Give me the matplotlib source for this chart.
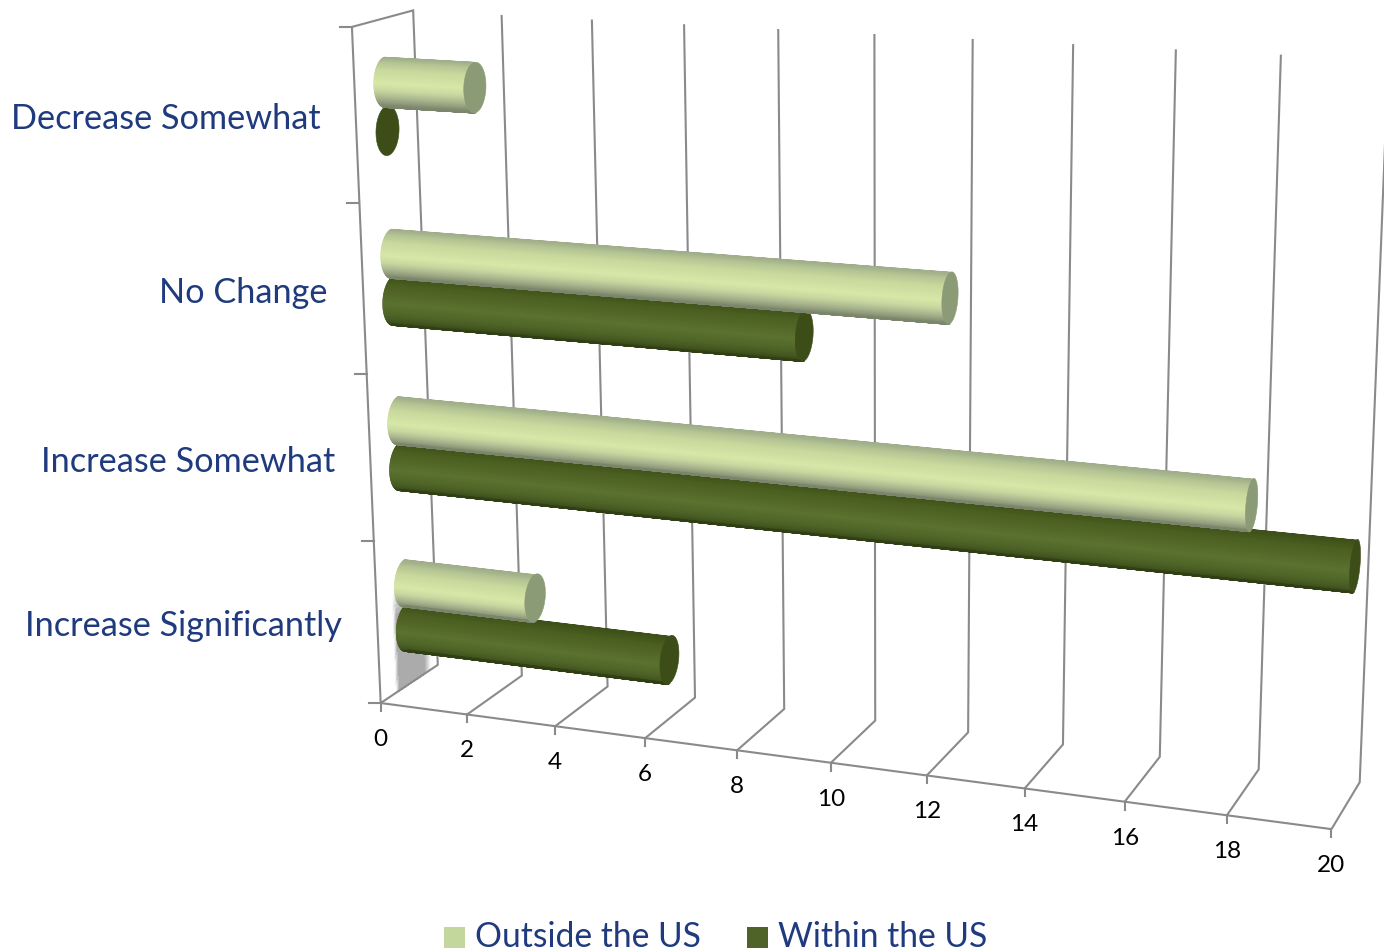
import numpy as np
import matplotlib
matplotlib.use("Agg")
import matplotlib.pyplot as plt
from matplotlib.collections import PolyCollection
from matplotlib.patches import Rectangle, Polygon
from matplotlib.colors import to_rgb

plt.rcParams['font.family'] = ['Lato', 'DejaVu Sans']

# Survey responses, listed from the floor of the chart upwards
categories = ["Increase Significantly", "Increase Somewhat", "No Change", "Decrease Somewhat"]
outside_us = [3, 18, 12, 2]
within_us = [6, 20, 9, 0]
value_ticks = list(range(0, 21, 2))
series_names = ["Outside the US", "Within the US"]

W, H = 1384, 951
LINE = "#8a8a8a"
BLUE = "#1f3a7d"

# Camera: pairs of (value, category height, depth) and where they land on the canvas
CAMERA_WORLD = np.array([
    (0, 0, 0), (2, 0, 0), (4, 0, 0), (6, 0, 0), (8, 0, 0), (10, 0, 0),
    (12, 0, 0), (14, 0, 0), (16, 0, 0), (18, 0, 0), (20, 0, 0),
    (0, 0, 1), (6, 0, 1), (10, 0, 1), (14, 0, 1), (20, 0, 1),
    (0, 4, 1), (2, 4, 1), (6, 4, 1), (10, 4, 1), (14, 4, 1), (18, 4, 1),
    (0, 4, 0), (0, 3, 0), (0, 2, 0), (0, 1, 0)], float)
CAMERA_CANVAS = np.array([
    (381, 703), (467, 715), (555, 727), (645, 739), (737, 751), (831, 763),
    (927, 775), (1024, 788), (1125, 802), (1227, 815), (1331, 829),
    (438, 665), (695, 697), (875, 720), (1063, 745), (1360, 782),
    (413, 11), (501, 15), (684, 24), (874, 34), (1074, 44), (1281, 55),
    (352, 27), (359.5, 203), (367, 373), (374, 540)], float)


def solve_camera(world, canvas):
    rows, rhs = [], []
    for (x, y, z), (u, v) in zip(world, canvas):
        rows.append([x, y, z, 1, 0, 0, 0, 0, -u * x, -u * y, -u * z])
        rows.append([0, 0, 0, 0, x, y, z, 1, -v * x, -v * y, -v * z])
        rhs += [u, v]
    p = np.linalg.lstsq(np.array(rows), np.array(rhs), rcond=None)[0]
    return np.append(p, 1).reshape(3, 4)


CAM = solve_camera(CAMERA_WORLD, CAMERA_CANVAS)


def project(v, c, d):
    v, c, d = np.broadcast_arrays(np.asarray(v, float), np.asarray(c, float), np.asarray(d, float))
    h = CAM @ np.stack([v, c, d, np.ones_like(v)])
    return np.stack([h[0] / h[2], h[1] / h[2]], axis=-1)


# Cylinder cross-section colours: (position from top to bottom edge, colour)
PALE_RAMP = [(0, "#a0ad8a"), (0.07, "#b4c493"), (0.2, "#c8d99d"), (0.45, "#d8e8a8"),
             (0.6, "#c8d8a0"), (0.78, "#a3af8a"), (0.92, "#838e70"), (1, "#7a856c")]
DARK_RAMP = [(0, "#3e5019"), (0.1, "#4a5e20"), (0.45, "#5b7230"), (0.68, "#506628"),
             (0.86, "#42551f"), (1, "#303f14")]
PALE_CAP = "#8b9b75"
DARK_CAP = "#3c4d18"


def ramp_colour(ramp, s):
    pos = [p for p, _ in ramp]
    rgb = np.array([to_rgb(c) for _, c in ramp])
    return tuple(np.interp(s, pos, rgb[:, i]) for i in range(3))


RADIUS_C = 0.143
RADIUS_D = 0.19
BAR_DEPTH = 0.5


def draw_cylinder(ax, value, level, ramp, cap_colour, zorder):
    thetas = np.linspace(0, np.pi, 91)
    if value > 0:
        near = project(0, level + RADIUS_C * np.cos(thetas), BAR_DEPTH - RADIUS_D * np.sin(thetas))
        far = project(value, level + RADIUS_C * np.cos(thetas), BAR_DEPTH - RADIUS_D * np.sin(thetas))
        quads, colours = [], []
        for k in range(len(thetas) - 1):
            quads.append([near[k], far[k], far[k + 1], near[k + 1]])
            colours.append(ramp_colour(ramp, (1 - np.cos(0.5 * (thetas[k] + thetas[k + 1]))) / 2))
        ax.add_collection(PolyCollection(quads, facecolors=colours, edgecolors=colours,
                                         linewidths=0.8, zorder=zorder))
    ring = np.linspace(0, 2 * np.pi, 120)
    cap = project(value, level + RADIUS_C * np.cos(ring), BAR_DEPTH + RADIUS_D * np.sin(ring))
    ax.add_patch(Polygon(cap, closed=True, facecolor=cap_colour, edgecolor=cap_colour,
                         linewidth=0.4, zorder=zorder + 0.1))


fig = plt.figure(figsize=(W / 100, H / 100), dpi=100)
ax = fig.add_axes([0, 0, 1, 1])
ax.set_xlim(0, W)
ax.set_ylim(H, 0)
ax.axis("off")


def line3d(points, **kw):
    xy = project(*np.array(points, float).T)
    ax.plot(xy[:, 0], xy[:, 1], color=LINE, lw=1.5, solid_capstyle="butt",
            solid_joinstyle="miter", **kw)


# Frame: side wall, floor edge and gridlines running back and up
n_cat = len(categories)
line3d([(0, 0, 0), (0, n_cat, 0), (0, n_cat, 1), (0, 0, 1), (0, 0, 0)], zorder=1)
line3d([(0, 0, 0), (value_ticks[-1], 0, 0)], zorder=1)
for tick in value_ticks:
    p = project(tick, 0, 0)
    ax.plot([p[0], p[0]], [p[1], p[1] + 8], color=LINE, lw=1.5, zorder=1)
    ax.text(p[0], p[1] + 36.5, str(tick), ha="center", va="center", fontsize=17.5, color="black")
    if tick > 0:
        line3d([(tick, 0, 0), (tick, 0, 1), (tick, n_cat, 1)], zorder=1)
for i in range(n_cat + 1):
    p = project(0, i, 0)
    ax.plot([p[0] - 12, p[0]], [p[1], p[1]], color=LINE, lw=1.5, zorder=1)
for i, name in enumerate(categories):
    p = project(0, i + 0.5, 0)
    ax.text(p[0] - 35.5, p[1] + 3.5, name, ha="right", va="center", fontsize=24.7, color=BLUE)


def grey_on_white(strength):
    level = 1 - 0.33 * strength
    return (level, level, level)


# Soft grey shadow thrown on the side wall beneath the lowest bars
depths = np.linspace(0.27, 0.9, 34)
heights = np.linspace(0, 0.64, 22)
for a, b in zip(depths[:-1], depths[1:]):
    across = (0.5 * (a + b) - depths[0]) / (depths[-1] - depths[0])
    side_fade = min(1.0, across / 0.1) * min(1.0, (1 - across) / 0.2)
    for c0, c1 in zip(heights[:-1], heights[1:]):
        up = 0.5 * (c0 + c1) / heights[-1]
        shade = grey_on_white(side_fade * min(1.0, (1 - up) / 0.25))
        quad = project([0, 0, 0, 0], [c0, c1, c1, c0], [a, a, b, b])
        ax.add_patch(Polygon(quad, closed=True, facecolor=shade, edgecolor=shade,
                             linewidth=0.3, antialiased=False, zorder=0.5))

# Within-US bars sit behind the Outside-US bars of the same group
for i in range(n_cat):
    draw_cylinder(ax, within_us[i], i + 0.355, DARK_RAMP, DARK_CAP, zorder=3 + i * 0.01)
    draw_cylinder(ax, outside_us[i], i + 0.635, PALE_RAMP, PALE_CAP, zorder=4 + i * 0.01)

# Legend along the bottom edge
for x, name, colour, tx in [(444, series_names[0], "#c3d69b", 475), (747, series_names[1], "#4f6228", 778)]:
    ax.add_patch(Rectangle((x, 927), 21, 21, facecolor=colour, edgecolor="none"))
    ax.text(tx, 947, name, ha="left", va="baseline", fontsize=24.2, color=BLUE)

fig.savefig("out.png", dpi=100)
